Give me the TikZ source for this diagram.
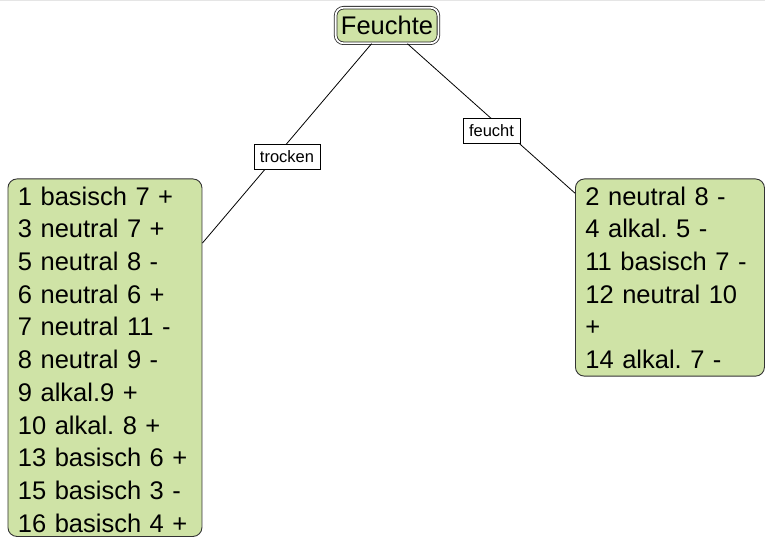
\documentclass[tikz,border=0pt]{standalone}
\usepackage{fontspec}
\setmainfont{Liberation Sans}
\frenchspacing
\definecolor{leafgreen}{RGB}{207,227,166}
\begin{document}
\begin{tikzpicture}[x=1pt,y=-1pt,
  leafbox/.style={draw=black!80, line width=0.9pt, fill=leafgreen, rounded corners=9pt,
    anchor=north west, inner xsep=10pt, inner ysep=0pt, align=left,
    font=\fontsize{25.5}{32.7}\selectfont\frenchspacing, text height=26.2pt},
  rootbox/.style={draw=black!85, line width=0.8pt, double=white, double distance=1.8pt,
    fill=leafgreen, rounded corners=8pt, minimum width=102.8pt, minimum height=35.6pt,
    inner sep=0pt, font=\fontsize{25.5}{30}\selectfont},
  lbl/.style={draw=black, line width=0.7pt, fill=white, inner xsep=6pt, inner ysep=0pt,
    minimum height=25pt, font=\fontsize{16.5}{18}\selectfont},
  conn/.style={draw=black, line width=0.8pt}
]
\useasboundingbox (0,0) rectangle (765,537);
\draw[gray!20, line width=1pt] (0,0.5) -- (765,0.5);

\node[rootbox] (root) at (387,25.5) {Feuchte};

\node[leafbox, text width=174pt, text depth=331.3pt] (left) at (7.5,178.5)
  {1 basisch 7 +\\3 neutral 7 +\\5 neutral 8 -\\6 neutral 6 +\\7 neutral 11 -\\8 neutral 9 -\\9 alkal.9 +\\10 alkal. 8 +\\13 basisch 6 +\\15 basisch 3 -\\16 basisch 4 +};

\node[leafbox, text width=169pt, text depth=171pt] (right) at (575,178.5)
  {2 neutral 8 -\\4 alkal. 5 -\\11 basisch 7 -\\12 neutral 10\\+\\14 alkal. 7 -};

\draw[conn] (root) -- (left);
\draw[conn] (root) -- (right);

\node[lbl] (ltrocken) at (287,157) {trocken};
\node[lbl] (lfeucht) at (491.5,131) {feucht};
\end{tikzpicture}
\end{document}
